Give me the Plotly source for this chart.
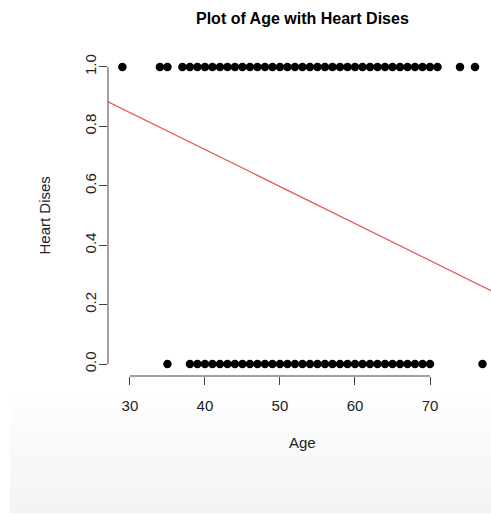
import plotly.graph_objects as go

# ---- data ----
age_with_disease = [29, 34, 35, 37, 38, 39, 40, 41, 42, 43, 44, 45, 46, 47, 48, 49,
                    50, 51, 52, 53, 54, 55, 56, 57, 58, 59, 60, 61, 62, 63, 64, 65,
                    66, 67, 68, 69, 70, 71, 74, 76]
age_without_disease = [35, 38, 39, 40, 41, 42, 43, 44, 45, 46, 47, 48, 49, 50, 51,
                       52, 53, 54, 55, 56, 57, 58, 59, 60, 61, 62, 63, 64, 65, 66,
                       67, 68, 69, 70, 77]
fit_intercept = 1.22
fit_slope = -0.01245

x_ticks = [30, 40, 50, 60, 70]
x_tick_labels = ["30", "40", "50", "60", "70"]
y_ticks = [0.0, 0.2, 0.4, 0.6, 0.8, 1.0]
y_tick_labels = ["0.0", "0.2", "0.4", "0.6", "0.8", "1.0"]

title_text = "Plot of Age with Heart Dises"
x_title = "Age"
y_title = "Heart Dises"

# ---- layout geometry ----
W, H = 491, 516
ML, MR, MT, MB = 108, 0, 55, 140
x_range = [27.08, 78.13]
y_range = [-0.04, 1.04]
full_x_center = (27.08 + 78.92) / 2
plot_w = W - ML - MR
plot_h = H - MT - MB

def px_to_paper_x(px):
    return (px - ML) / plot_w

def py_to_paper_y(py):
    return (H - MB - py) / plot_h

FONT = "Liberation Sans, Arial, Helvetica, sans-serif"
AX = "#444444"
TXT = "#222222"

fig = go.Figure()

fig.add_trace(go.Scatter(
    x=age_with_disease, y=[1] * len(age_with_disease), mode="markers",
    marker=dict(color="black", size=8.5), showlegend=False, cliponaxis=False))
fig.add_trace(go.Scatter(
    x=age_without_disease, y=[0] * len(age_without_disease), mode="markers",
    marker=dict(color="black", size=8.5), showlegend=False, cliponaxis=False))

line_x = [x_range[0], x_range[1]]
line_y = [fit_intercept + fit_slope * v for v in line_x]
fig.add_trace(go.Scatter(x=line_x, y=line_y, mode="lines",
                         line=dict(color="#e5534f", width=1.2), showlegend=False))

shapes = []
# faint grey wash at the bottom of the screenshot (smooth steps)
n_steps = 24
top_px, bot_px = 392, 513
for i in range(n_steps):
    t0 = top_px + (bot_px - top_px) * i / n_steps
    t1 = top_px + (bot_px - top_px) * (i + 1) / n_steps
    g = int(round(255 - 12 * (i + 1) / n_steps))
    shapes.append(dict(type="rect", xref="paper", yref="paper",
                       x0=px_to_paper_x(10), x1=1.0,
                       y0=py_to_paper_y(t1 + 0.5), y1=py_to_paper_y(t0),
                       fillcolor="rgb(%d,%d,%d)" % (g, g, g),
                       line=dict(width=0), layer="below"))
# R-style axis lines spanning first to last tick
shapes.append(dict(type="line", xref="x", yref="paper", x0=x_ticks[0], x1=x_ticks[-1],
                   y0=0, y1=0, line=dict(color=AX, width=1)))
shapes.append(dict(type="line", xref="paper", yref="y", x0=0, x1=0,
                   y0=y_ticks[0], y1=y_ticks[-1], line=dict(color=AX, width=1)))

annotations = [
    dict(text=x_title, xref="x", yref="paper", x=full_x_center, y=py_to_paper_y(442),
         xanchor="center", yanchor="middle", showarrow=False,
         font=dict(family=FONT, size=15, color=TXT)),
    dict(text=y_title, xref="paper", yref="paper", x=px_to_paper_x(44), y=0.5,
         xanchor="center", yanchor="middle", textangle=-90, showarrow=False,
         font=dict(family=FONT, size=15, color=TXT)),
    dict(text="<b>" + title_text + "</b>", xref="x", yref="paper", x=full_x_center,
         y=py_to_paper_y(18), xanchor="center", yanchor="middle", showarrow=False,
         font=dict(family=FONT, size=16, color="black")),
]

fig.update_layout(
    width=W, height=H,
    margin=dict(l=ML, r=MR, t=MT, b=MB, pad=0),
    paper_bgcolor="white", plot_bgcolor="rgba(0,0,0,0)",
    shapes=shapes, annotations=annotations,
    xaxis=dict(range=x_range, tickvals=x_ticks, ticktext=x_tick_labels,
               ticks="outside", ticklen=8, tickcolor=AX, tickwidth=1,
               showline=False, showgrid=False, zeroline=False,
               ticklabelstandoff=8,
               tickfont=dict(family=FONT, size=15, color=TXT)),
    yaxis=dict(range=y_range, tickvals=y_ticks, ticktext=y_tick_labels,
               ticks="outside", ticklen=8, tickcolor=AX, tickwidth=1,
               showline=False, showgrid=False, zeroline=False, tickangle=-90,
               ticklabelstandoff=-3,
               tickfont=dict(family=FONT, size=15, color=TXT)),
)

fig.write_html("out.html")
